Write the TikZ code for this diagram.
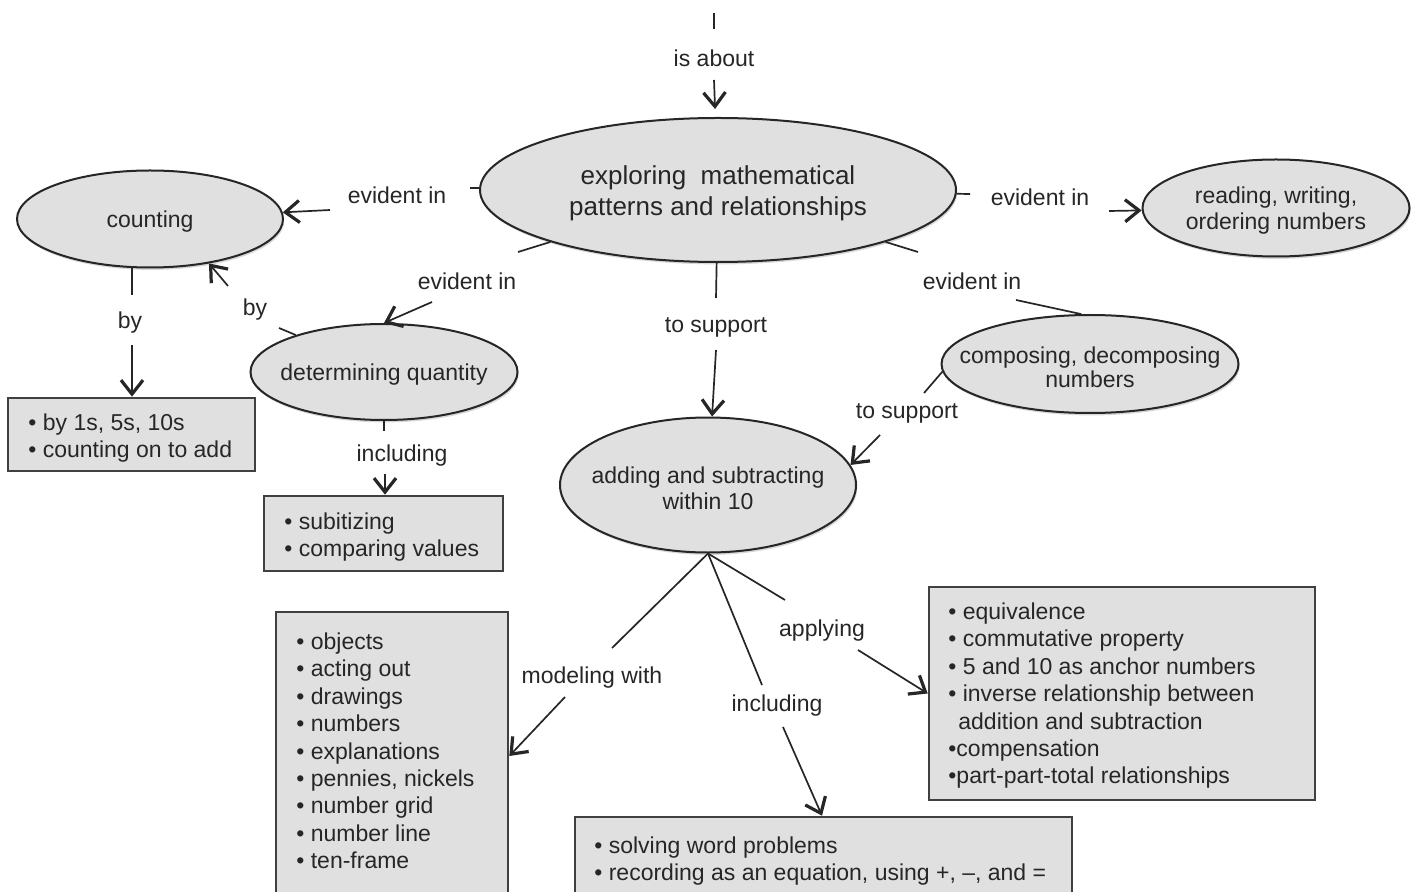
\documentclass[tikz,border=0pt]{standalone}
\usepackage{fontspec}
\setmainfont{Liberation Sans}
\usetikzlibrary{arrows.meta,shapes.geometric,shadows,calc}
\begin{document}
\begin{tikzpicture}[x=0.5pt,y=-0.5pt,
  cell/.style={ellipse,draw=black!85,line width=1pt,fill=black!12,inner sep=0pt,
    drop shadow={shadow xshift=0.6pt,shadow yshift=-1.2pt,opacity=0.3}},
  cbox/.style={rectangle,draw=black!75,line width=1.3pt,fill=black!12,inner sep=0pt},
  btxt/.style={align=left,anchor=west,inner sep=0pt,yshift=-1.4pt,text=black!85,font=\fontsize{11.5}{13.7}\selectfont},
  clab/.style={inner sep=0pt,yshift=-1.4pt,text=black!85,font=\fontsize{11.5}{13.7}\selectfont},
  ttxt/.style={align=center,inner sep=0pt,yshift=-1.4pt,text=black!85,font=\fontsize{11.5}{13}\selectfont},
  ccon/.style={draw=black!85,line width=0.85pt},
  carr/.style={ccon,-{Straight Barb[length=7pt,width=11pt,line width=1.6pt]}}
]
\useasboundingbox (0,0) rectangle (1416,892);
\clip (0,0) rectangle (1416,892);
\fill[white] (0,0) rectangle (1416,892);

% ellipses
\node[cell,minimum width=238pt,minimum height=72pt] (main) at (718,190) {};
\node[ttxt,font=\fontsize{13}{15.5}\selectfont] (mainT) at (main) {exploring\ \ mathematical\\patterns and relationships};
\node[cell,minimum width=133pt,minimum height=48.5pt] (count) at (150,219) {};
\node[ttxt] (countT) at (count) {counting};
\node[cell,minimum width=133.5pt,minimum height=48.5pt] (read) at (1276,208) {};
\node[ttxt] (readT) at (read) {reading, writing,\\ordering numbers};
\node[cell,minimum width=133.5pt,minimum height=48pt] (det) at (384,372) {};
\node[ttxt] (detT) at (det) {determining quantity};
\node[cell,minimum width=148.5pt,minimum height=49pt] (comp) at (1090,364) {};
\node[ttxt,font=\fontsize{11.5}{12}\selectfont] (compT) at (comp) {composing, decomposing\\numbers};
\node[cell,minimum width=148pt,minimum height=67.5pt] (add) at (708,485) {};
\node[ttxt] (addT) at (add) {adding and subtracting\\within 10};

% boxes
\node[cbox,minimum width=123.5pt,minimum height=36.5pt] (bybox) at (131.5,434.5) {};
\node[btxt] (byT) at (28,435) {• by 1s, 5s, 10s\\• counting on to add};
\node[cbox,minimum width=119.5pt,minimum height=37.5pt] (subbox) at (383.5,533.5) {};
\node[btxt] (subT) at (284,534) {• subitizing\\• comparing values};
\node[cbox,minimum width=116pt,minimum height=144pt] (objbox) at (392,756) {};
\node[btxt] (objT) at (296,748) {• objects\\• acting out\\• drawings\\• numbers\\• explanations\\• pennies, nickels\\• number grid\\• number line\\• ten-frame};
\node[cbox,minimum width=193pt,minimum height=106.5pt] (eqbox) at (1122,693.5) {};
\node[btxt] (eqT) at (948,693) {• equivalence\\• commutative property\\• 5 and 10 as anchor numbers\\• inverse relationship between\\\hspace*{5pt}addition and subtraction\\•compensation\\•part-part-total relationships};
\node[cbox,minimum width=248.5pt,minimum height=41.5pt] (solbox) at (823.5,858.5) {};
\node[btxt] (solT) at (594,858) {• solving word problems\\• recording as an equation, using +, –, and =};

% labels
\node[clab] (lAbout) at (714,55) {is about};
\node[clab] (lEv1) at (397,192) {evident in};
\node[clab] (lEv2) at (467,278) {evident in};
\node[clab] (lSup1) at (716,325) {to support};
\node[clab] (lEv3) at (972,278) {evident in};
\node[clab] (lEv4) at (1040,194) {evident in};
\node[clab] (lBy1) at (130,320) {by};
\node[clab] (lBy2) at (255,307) {by};
\node[clab] (lInc1) at (402,453) {including};
\node[clab] (lSup2) at (907,411) {to support};
\node[clab] (lMod) at (592,675) {modeling with};
\node[clab] (lInc2) at (777,703) {including};
\node[clab] (lApp) at (822,628) {applying};

% connector coordinates
\coordinate (t0) at (714,13);
\coordinate (t1) at (714,29);
\coordinate (t2) at (714,80);
\coordinate (e1a) at (470,188);
\coordinate (e1b) at (330,210);
\coordinate (e2a) at (518,252);
\coordinate (e2b) at (432,302);
\coordinate (s1a) at (716,298);
\coordinate (s1b) at (716,350);
\coordinate (e3a) at (918,252);
\coordinate (e3b) at (1016,300);
\coordinate (e4a) at (970,194);
\coordinate (e4b) at (1109,211);
\coordinate (b1a) at (132,295);
\coordinate (b1b) at (132,345);
\coordinate (b2a) at (279,328);
\coordinate (b2b) at (228,286);
\coordinate (i1a) at (384,431);
\coordinate (i1b) at (385,474);
\coordinate (s2a) at (924,393);
\coordinate (s2b) at (880,435);
\coordinate (m1a) at (612,648);
\coordinate (m1b) at (565,697);
\coordinate (i2a) at (762,685);
\coordinate (i2b) at (783,727);
\coordinate (i2t) at (822,0);
\coordinate (a1a) at (785,600);
\coordinate (a1b) at (858,650);

% connectors
\draw[ccon] (t0) -- (t1);
\draw[carr,shorten >=4pt] (t2) -- (main);
\draw[ccon] (main) -- (e1a);
\draw[carr] (e1b) -- (count);
\draw[ccon] (main) -- (e2a);
\draw[carr] (e2b) -- (det.north);
\draw[ccon] (main) -- (s1a);
\draw[carr] (s1b) -- (add);
\draw[ccon] (main) -- (e3a);
\draw[ccon] (e3b) -- (comp.100);
\draw[ccon] (main) -- (e4a);
\draw[carr] (e4b) -- (read);
\draw[ccon] (count.south -| b1a) -- (b1a);
\draw[carr] (b1b) -- (bybox.north -| b1b);
\draw[ccon] (det) -- (b2a);
\draw[carr] (b2b) -- (count.323);
\draw[ccon] (det.south -| i1a) -- (i1a);
\draw[carr] (i1b) -- (subbox.north -| i1b);
\draw[ccon] (comp.183) -- (s2a);
\draw[carr] (s2b) -- (add.8);
\draw[ccon] (add.south) -- (m1a);
\draw[carr] (m1b) -- (objbox.east);
\draw[ccon] (add.south) -- (i2a);
\draw[carr] (i2b) -- (solbox.north -| i2t);
\draw[ccon] (add.south) -- (a1a);
\draw[carr] (a1b) -- (eqbox.west);
\end{tikzpicture}
\end{document}
